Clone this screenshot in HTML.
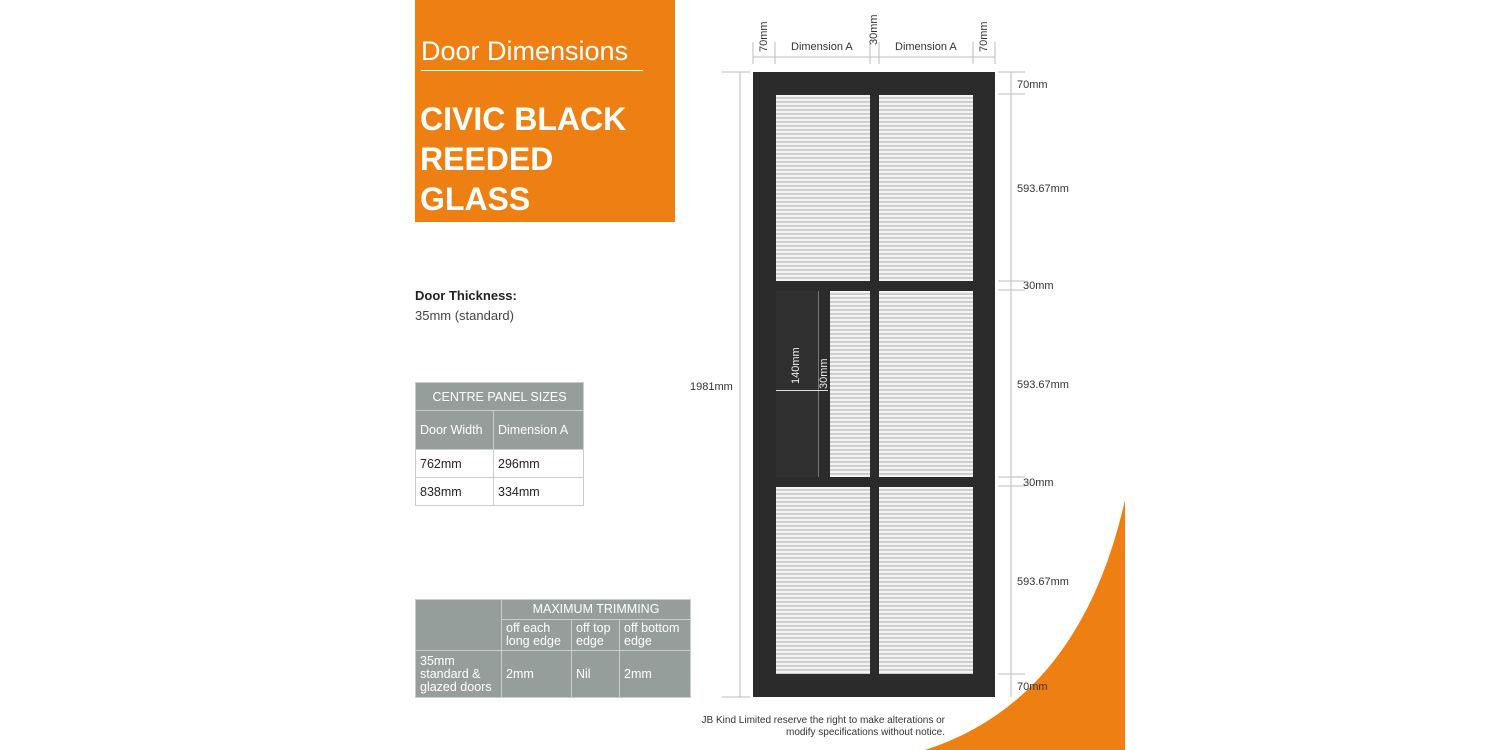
<!DOCTYPE html>
<html><head><meta charset="utf-8"><style>
*{margin:0;padding:0;box-sizing:border-box}
body{width:1500px;height:750px;background:#fff;position:relative;overflow:hidden;font-family:"Liberation Sans",sans-serif;color:#222}
.a{position:absolute}
.or{background:#ee7f12}
.frame{background:#2b2b2b}
.glass{background:repeating-linear-gradient(180deg,#f4f4f4 0px,#f4f4f4 2px,#b9b9b9 2.5px,#dcdcdc 4px);}
.t{font-size:11px;color:#333;white-space:nowrap}
table{border-collapse:collapse;position:absolute;font-size:12.5px}
td{border:1px solid #c9cdcc;padding:0 4px}
.g td{background:#969e9c;color:#fff}
</style></head><body>
<div class="a or" style="left:415px;top:0;width:260px;height:222px"></div>
<div class="a" style="left:421px;top:36px;color:#fff;font-size:27px;font-weight:300">Door Dimensions</div>
<div class="a" style="left:421px;top:70px;width:222px;height:1px;background:#fff"></div>
<div class="a" style="left:420px;top:99px;color:#fff;font-size:32px;font-weight:bold;line-height:40px">CIVIC BLACK<br>REEDED<br>GLASS</div>

<div class="a" style="left:415px;top:288px;font-size:13px;font-weight:bold">Door Thickness:</div>
<div class="a" style="left:415px;top:308px;font-size:13px;color:#444">35mm (standard)</div>

<table style="left:415px;top:382px;width:169px">
<tr class="g"><td colspan="2" style="height:28px;text-align:center">CENTRE PANEL SIZES</td></tr>
<tr class="g"><td style="height:39px;width:78px">Door Width</td><td>Dimension A</td></tr>
<tr><td style="height:28px">762mm</td><td>296mm</td></tr>
<tr><td style="height:28px">838mm</td><td>334mm</td></tr>
</table>

<table style="left:415px;top:599px;width:276px;font-size:12.5px;line-height:13px" class="g">
<tr class="g"><td rowspan="2" style="width:86px"></td><td colspan="3" style="height:20px;text-align:center">MAXIMUM TRIMMING</td></tr>
<tr class="g"><td style="height:31px;width:70px">off each long edge</td><td style="width:48px">off top edge</td><td>off bottom edge</td></tr>
<tr class="g"><td style="height:47px">35mm standard &amp; glazed doors</td><td>2mm</td><td>Nil</td><td>2mm</td></tr>
</table>

<!-- orange curve -->
<svg class="a" style="left:0;top:0" width="1500" height="750">
<path d="M925,750 Q1080,700 1125,500 L1125,750 Z" fill="#ee7f12"/>
<g stroke="#bbb" stroke-width="1" fill="none">
<line x1="740" y1="72" x2="740" y2="697"/>
<line x1="722" y1="72" x2="750" y2="72"/><line x1="722" y1="697" x2="750" y2="697"/>
<line x1="1011" y1="72" x2="1011" y2="697"/>
<line x1="998" y1="72" x2="1025" y2="72"/><line x1="998" y1="94" x2="1025" y2="94"/>
<line x1="998" y1="281" x2="1025" y2="281"/><line x1="998" y1="290" x2="1025" y2="290"/>
<line x1="998" y1="477" x2="1025" y2="477"/><line x1="998" y1="486" x2="1025" y2="486"/>
<line x1="998" y1="674" x2="1025" y2="674"/>
<line x1="753" y1="57" x2="995" y2="57"/>
<line x1="753" y1="42" x2="753" y2="64"/><line x1="775" y1="42" x2="775" y2="64"/>
<line x1="870" y1="42" x2="870" y2="64"/><line x1="879" y1="42" x2="879" y2="64"/>
<line x1="973" y1="42" x2="973" y2="64"/><line x1="995" y1="42" x2="995" y2="64"/>
</g>
</svg>

<!-- door -->
<div class="a frame" style="left:753px;top:72px;width:242px;height:625px"></div>
<div class="a glass" style="left:776px;top:95px;width:94px;height:186px"></div>
<div class="a glass" style="left:879px;top:95px;width:94px;height:186px"></div>
<div class="a" style="left:776px;top:291px;width:43px;height:186px;background:#303030"></div>
<div class="a" style="left:818px;top:291px;width:1px;height:186px;background:#777"></div>
<div class="a glass" style="left:830px;top:291px;width:40px;height:186px"></div>
<div class="a glass" style="left:879px;top:291px;width:94px;height:186px"></div>
<div class="a glass" style="left:776px;top:487px;width:94px;height:187px"></div>
<div class="a glass" style="left:879px;top:487px;width:94px;height:187px"></div>
<div class="a" style="left:776px;top:390px;width:52px;height:1px;background:#ddd"></div>

<div class="a t" style="left:690px;top:381px">1981mm</div>
<div class="a t" style="left:1017px;top:79px">70mm</div>
<div class="a t" style="left:1017px;top:183px">593.67mm</div>
<div class="a t" style="left:1023px;top:280px">30mm</div>
<div class="a t" style="left:1017px;top:379px">593.67mm</div>
<div class="a t" style="left:1023px;top:477px">30mm</div>
<div class="a t" style="left:1017px;top:576px">593.67mm</div>
<div class="a t" style="left:1017px;top:681px">70mm</div>
<div class="a t" style="left:791px;top:41px">Dimension A</div>
<div class="a t" style="left:895px;top:41px">Dimension A</div>
<div class="a t" style="left:765px;top:34px;transform:rotate(-90deg);transform-origin:left top;left:758px;top:52px">70mm</div>
<div class="a t" style="left:868px;top:45px;transform:rotate(-90deg);transform-origin:left top">30mm</div>
<div class="a t" style="left:978px;top:52px;transform:rotate(-90deg);transform-origin:left top">70mm</div>
<div class="a t" style="left:790px;top:384px;transform:rotate(-90deg);transform-origin:left top;color:#eee">140mm</div>
<div class="a t" style="left:818px;top:389px;transform:rotate(-90deg);transform-origin:left top;color:#eee">30mm</div>

<div class="a" style="left:700px;top:715px;font-size:10px;color:#333;text-align:right;width:245px;line-height:12px">JB Kind Limited reserve the right to make alterations or<br>modify specifications without notice.</div>
</body></html>
